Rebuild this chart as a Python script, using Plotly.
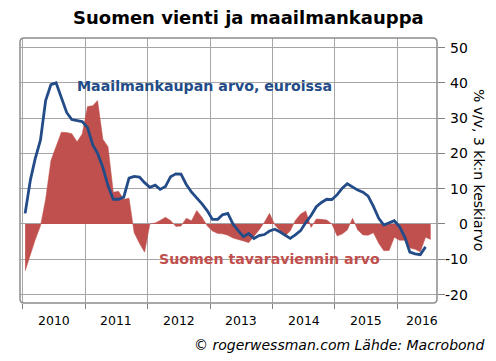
import pandas as pd
import plotly.graph_objects as go

# Monthly data, Jan 2010 onwards (plotted mid-month)
world_trade = [3.0, 12.5, 18.5, 23.8, 35.0, 39.5, 40.0, 36.0, 31.6, 29.6, 29.4, 29.0,
               27.3, 22.4, 20.0, 16.0, 10.8, 7.0, 7.0, 7.6, 13.0, 13.5, 13.3, 11.7,
               10.4, 11.0, 9.8, 10.6, 13.4, 14.2, 14.1, 11.2, 9.0, 7.5, 5.7, 3.8,
               1.3, 1.3, 2.6, 3.0, 0.0, -1.9, -3.6, -2.7, -4.1, -3.3, -3.0, -2.0,
               -1.5, -2.3, -3.2, -4.1, -3.1, -1.9, 0.4, 2.4, 4.9, 6.1, 7.0, 6.9,
               8.3, 10.2, 11.4, 10.4, 9.6, 9.0, 7.9, 5.0, 1.6, -0.3, 0.2, 0.9,
               -0.8, -3.8, -8.0, -8.5, -8.7, -6.5]
finland_exports = [-13.3, -8.5, -4.5, -0.5, 7.0, 18.0, 22.0, 26.0, 25.9, 25.6, 23.3, 25.5,
                   33.3, 33.5, 35.0, 24.0, 21.9, 9.0, 9.3, 7.0, 7.3, -2.5, -5.5, -8.0,
                   0.0, 0.3, 1.0, 1.9, 1.0, -0.7, -0.6, 1.6, 0.9, 3.8, 1.9, -0.5,
                   -2.0, -2.7, -2.8, -3.2, -4.0, -4.3, -4.8, -5.3, -3.6, -1.7, 0.5, 3.0,
                   -0.3, -2.0, -3.5, -2.0, 1.0, 2.8, 3.7, -1.0, 1.4, 1.3, 1.1, 0.0,
                   -3.4, -2.8, -1.7, 1.6, -1.7, -3.1, -3.2, -2.5, -5.5, -7.6, -7.5, -3.8,
                   -4.6, -4.6, -6.8, -7.2, -7.9, -3.8, -4.4]
years = ["2010", "2011", "2012", "2013", "2014", "2015", "2016"]
y_ticks = [50, 40, 30, 20, 10, 0, -10, -20]
y_ticktext = ["50", "40", "30", "20", "10", "0", "-10", "-20"]

start = pd.Timestamp("2010-01-01")
dates_wt = [start + pd.DateOffset(months=i) + pd.Timedelta(days=14) for i in range(len(world_trade))]
dates_fe = [start + pd.DateOffset(months=i) + pd.Timedelta(days=14) for i in range(len(finland_exports))]

BLUE = "#224b87"
RED = "#c0504d"
GRID = "#a6a6a6"
FONT = "DejaVu Sans"

fig = go.Figure()
fig.add_trace(go.Scatter(x=dates_fe, y=finland_exports, mode="lines", fill="tozeroy",
                         line=dict(color=RED, width=0.5), fillcolor=RED,
                         name="Suomen tavaraviennin arvo", showlegend=False))
fig.add_trace(go.Scatter(x=dates_wt, y=world_trade, mode="lines",
                         line=dict(color=BLUE, width=2.8),
                         name="Maailmankaupan arvo, euroissa", showlegend=False))

L, R, T, B = 20, 59, 38, 58
W, H = 496, 361
pw, ph = W - L - R, H - T - B

def px(xp):
    return (xp - L) / pw

def py(yp):
    return (H - B - yp) / ph

fig.update_layout(
    width=W, height=H,
    margin=dict(l=L, r=R, t=T, b=B, autoexpand=False),
    paper_bgcolor="white", plot_bgcolor="white",
    font=dict(family=FONT, color="black"),
    hovermode=False,
    xaxis=dict(range=["2009-12-16", "2016-08-21"],
               tickvals=[f"{y}-01-01" for y in years],
               showticklabels=False, ticks="outside", ticklen=5, tickcolor="#808080",
               showgrid=True, gridcolor=GRID, gridwidth=1, zeroline=False, showline=False),
    yaxis=dict(range=[-22.4, 52.7], side="right", tickvals=y_ticks,
               showticklabels=False, ticks="outside", ticklen=7, tickcolor="#808080",
               showgrid=True, gridcolor=GRID, gridwidth=1, zeroline=False, showline=False),
)

# rounded plot border
rx, ry = 4 / pw, 4 / ph
path = (f"M {rx},0 L {1-rx},0 Q 1,0 1,{ry} L 1,{1-ry} Q 1,1 {1-rx},1 "
        f"L {rx},1 Q 0,1 0,{1-ry} L 0,{ry} Q 0,0 {rx},0 Z")
fig.add_shape(type="path", path=path, xref="paper", yref="paper",
              line=dict(color="#8c8c8c", width=1.5), layer="above")

ann = []
# title
ann.append(dict(text="<b>Suomen vienti ja maailmankauppa</b>", xref="paper", yref="paper",
                x=px(248), y=py(17), xanchor="center", yanchor="middle", showarrow=False,
                font=dict(size=18, family=FONT, color="black")))
# right tick labels
for v, t in zip(y_ticks, y_ticktext):
    ann.append(dict(text=t, xref="paper", yref="y", x=1, xshift=33, y=v,
                    xanchor="right", yanchor="middle", showarrow=False,
                    font=dict(size=14, family=FONT, color="black")))
# axis title
ann.append(dict(text="% v/v, 3 kk:n keskiarvo", xref="paper", yref="paper",
                x=px(479), y=py(170), xanchor="center", yanchor="middle", textangle=90,
                showarrow=False, font=dict(size=14, family=FONT, color="black")))
# year labels
year_pos = [f"{y}-07-02" for y in years[:-1]] + ["2016-05-25"]
for y, xp in zip(years, year_pos):
    ann.append(dict(text=y, xref="x", yref="paper", x=xp, y=py(320),
                    xanchor="center", yanchor="middle", showarrow=False,
                    font=dict(size=12.5, family=FONT, color="black")))
# series labels
ann.append(dict(text="<b>Maailmankaupan arvo, euroissa</b>", xref="paper", yref="paper",
                x=px(75), y=py(86), xanchor="left", yanchor="middle", showarrow=False,
                font=dict(size=14.2, family=FONT, color=BLUE)))
ann.append(dict(text="<b>Suomen tavaraviennin arvo</b>", xref="paper", yref="paper",
                x=px(157), y=py(259), xanchor="left", yanchor="middle", showarrow=False,
                font=dict(size=14.2, family=FONT, color=RED)))
# source
ann.append(dict(text="<i>© rogerwessman.com Lähde: Macrobond</i>", xref="paper", yref="paper",
                x=px(486), y=py(345), xanchor="right", yanchor="middle", showarrow=False,
                font=dict(size=14, family=FONT, color="black")))
fig.update_layout(annotations=ann)

fig.write_html("out.html", config={"displayModeBar": False, "staticPlot": True},
               post_script="document.body.style.margin='0';")
